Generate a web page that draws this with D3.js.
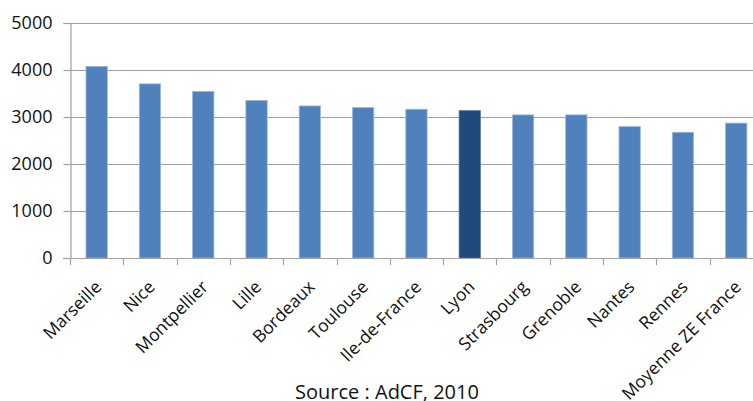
<!DOCTYPE html>
<html>
<head>
<meta charset="utf-8">
<script src="https://cdn.jsdelivr.net/npm/d3@7"></script>
<style>
  html, body { margin: 0; padding: 0; background: #fff; overflow: hidden; }
  svg { display: block; font-family: "Open Sans", sans-serif; }
</style>
</head>
<body>
<svg id="chart" width="753" height="401"></svg>
<script>
// Catégories (zones d'emploi) et valeurs
const categories = ["Marseille", "Nice", "Montpellier", "Lille", "Bordeaux", "Toulouse",
  "Ile-de-France", "Lyon", "Strasbourg", "Grenoble", "Nantes", "Rennes", "Moyenne ZE France"];
const values = [4075, 3705, 3545, 3350, 3235, 3200, 3165, 3135, 3045, 3045, 2795, 2675, 2870];
const yTicks = [0, 1000, 2000, 3000, 4000, 5000];
const highlighted = "Lyon";
const sourceText = "Source : AdCF, 2010";

const svg = d3.select("#chart");
const plotLeft = 70, plotTop = 23, plotBottom = 258, bandW = 53.3;

const x = d3.scaleBand()
  .domain(categories)
  .range([plotLeft, plotLeft + bandW * categories.length])
  .paddingInner(0.6)
  .paddingOuter(0.3);

const y = d3.scaleLinear().domain([0, 5000]).range([plotBottom, plotTop]);

// Gridlines
svg.append("g")
  .selectAll("line")
  .data(yTicks.filter(d => d > 0))
  .join("line")
  .attr("x1", plotLeft).attr("x2", 753)
  .attr("y1", d => Math.round(y(d)) + 0.5).attr("y2", d => Math.round(y(d)) + 0.5)
  .attr("stroke", "#a0a0a0").attr("stroke-width", 1.2);

// Bars
svg.append("g")
  .selectAll("rect")
  .data(categories)
  .join("rect")
  .attr("x", d => x(d))
  .attr("y", (d, i) => y(values[i]))
  .attr("width", x.bandwidth())
  .attr("height", (d, i) => y(0) - y(values[i]))
  .attr("fill", d => d === highlighted ? "#1f497d" : "#4f81bd")
  .attr("stroke", d => d === highlighted ? "#5a7aa3" : "#9bb8dc")
  .attr("stroke-width", 0.8);

// Y axis
const yAxis = svg.append("g")
  .attr("transform", `translate(${plotLeft + 0.5},0)`)
  .call(d3.axisLeft(y).tickValues(yTicks).tickSize(7).tickPadding(11).tickFormat(d3.format("d")));
yAxis.select(".domain").attr("stroke", "#a0a0a0").attr("stroke-width", 1.2);
yAxis.selectAll(".tick line").attr("stroke", "#a0a0a0").attr("stroke-width", 1.2);
yAxis.selectAll(".tick text")
  .attr("font-size", 18).attr("fill", "#111")
  .attr("font-family", "Open Sans, sans-serif");

// X axis: baseline with ticks at category boundaries
const xAxisG = svg.append("g");
xAxisG.append("line")
  .attr("x1", plotLeft - 7).attr("x2", 753)
  .attr("y1", plotBottom + 0.5).attr("y2", plotBottom + 0.5)
  .attr("stroke", "#a0a0a0").attr("stroke-width", 1.2);
const step = x.step();
xAxisG.selectAll("line.tk")
  .data(categories)
  .join("line")
  .attr("class", "tk")
  .attr("x1", d => Math.round(x(d) - x.paddingOuter() * step) + 0.5)
  .attr("x2", d => Math.round(x(d) - x.paddingOuter() * step) + 0.5)
  .attr("y1", plotBottom).attr("y2", plotBottom + 7)
  .attr("stroke", "#a0a0a0").attr("stroke-width", 1.2);

// Category labels, rotated
xAxisG.selectAll("text")
  .data(categories)
  .join("text")
  .attr("transform", d => `translate(${x(d) + x.bandwidth() / 2 + 6},288) rotate(-45)`)
  .attr("text-anchor", "end")
  .attr("font-size", 17.5)
  .attr("fill", "#111")
  .text(d => d);

// Source
svg.append("text")
  .attr("x", 387).attr("y", 399)
  .attr("text-anchor", "middle")
  .attr("font-size", 20)
  .attr("fill", "#111")
  .text(sourceText);
</script>
</body>
</html>
